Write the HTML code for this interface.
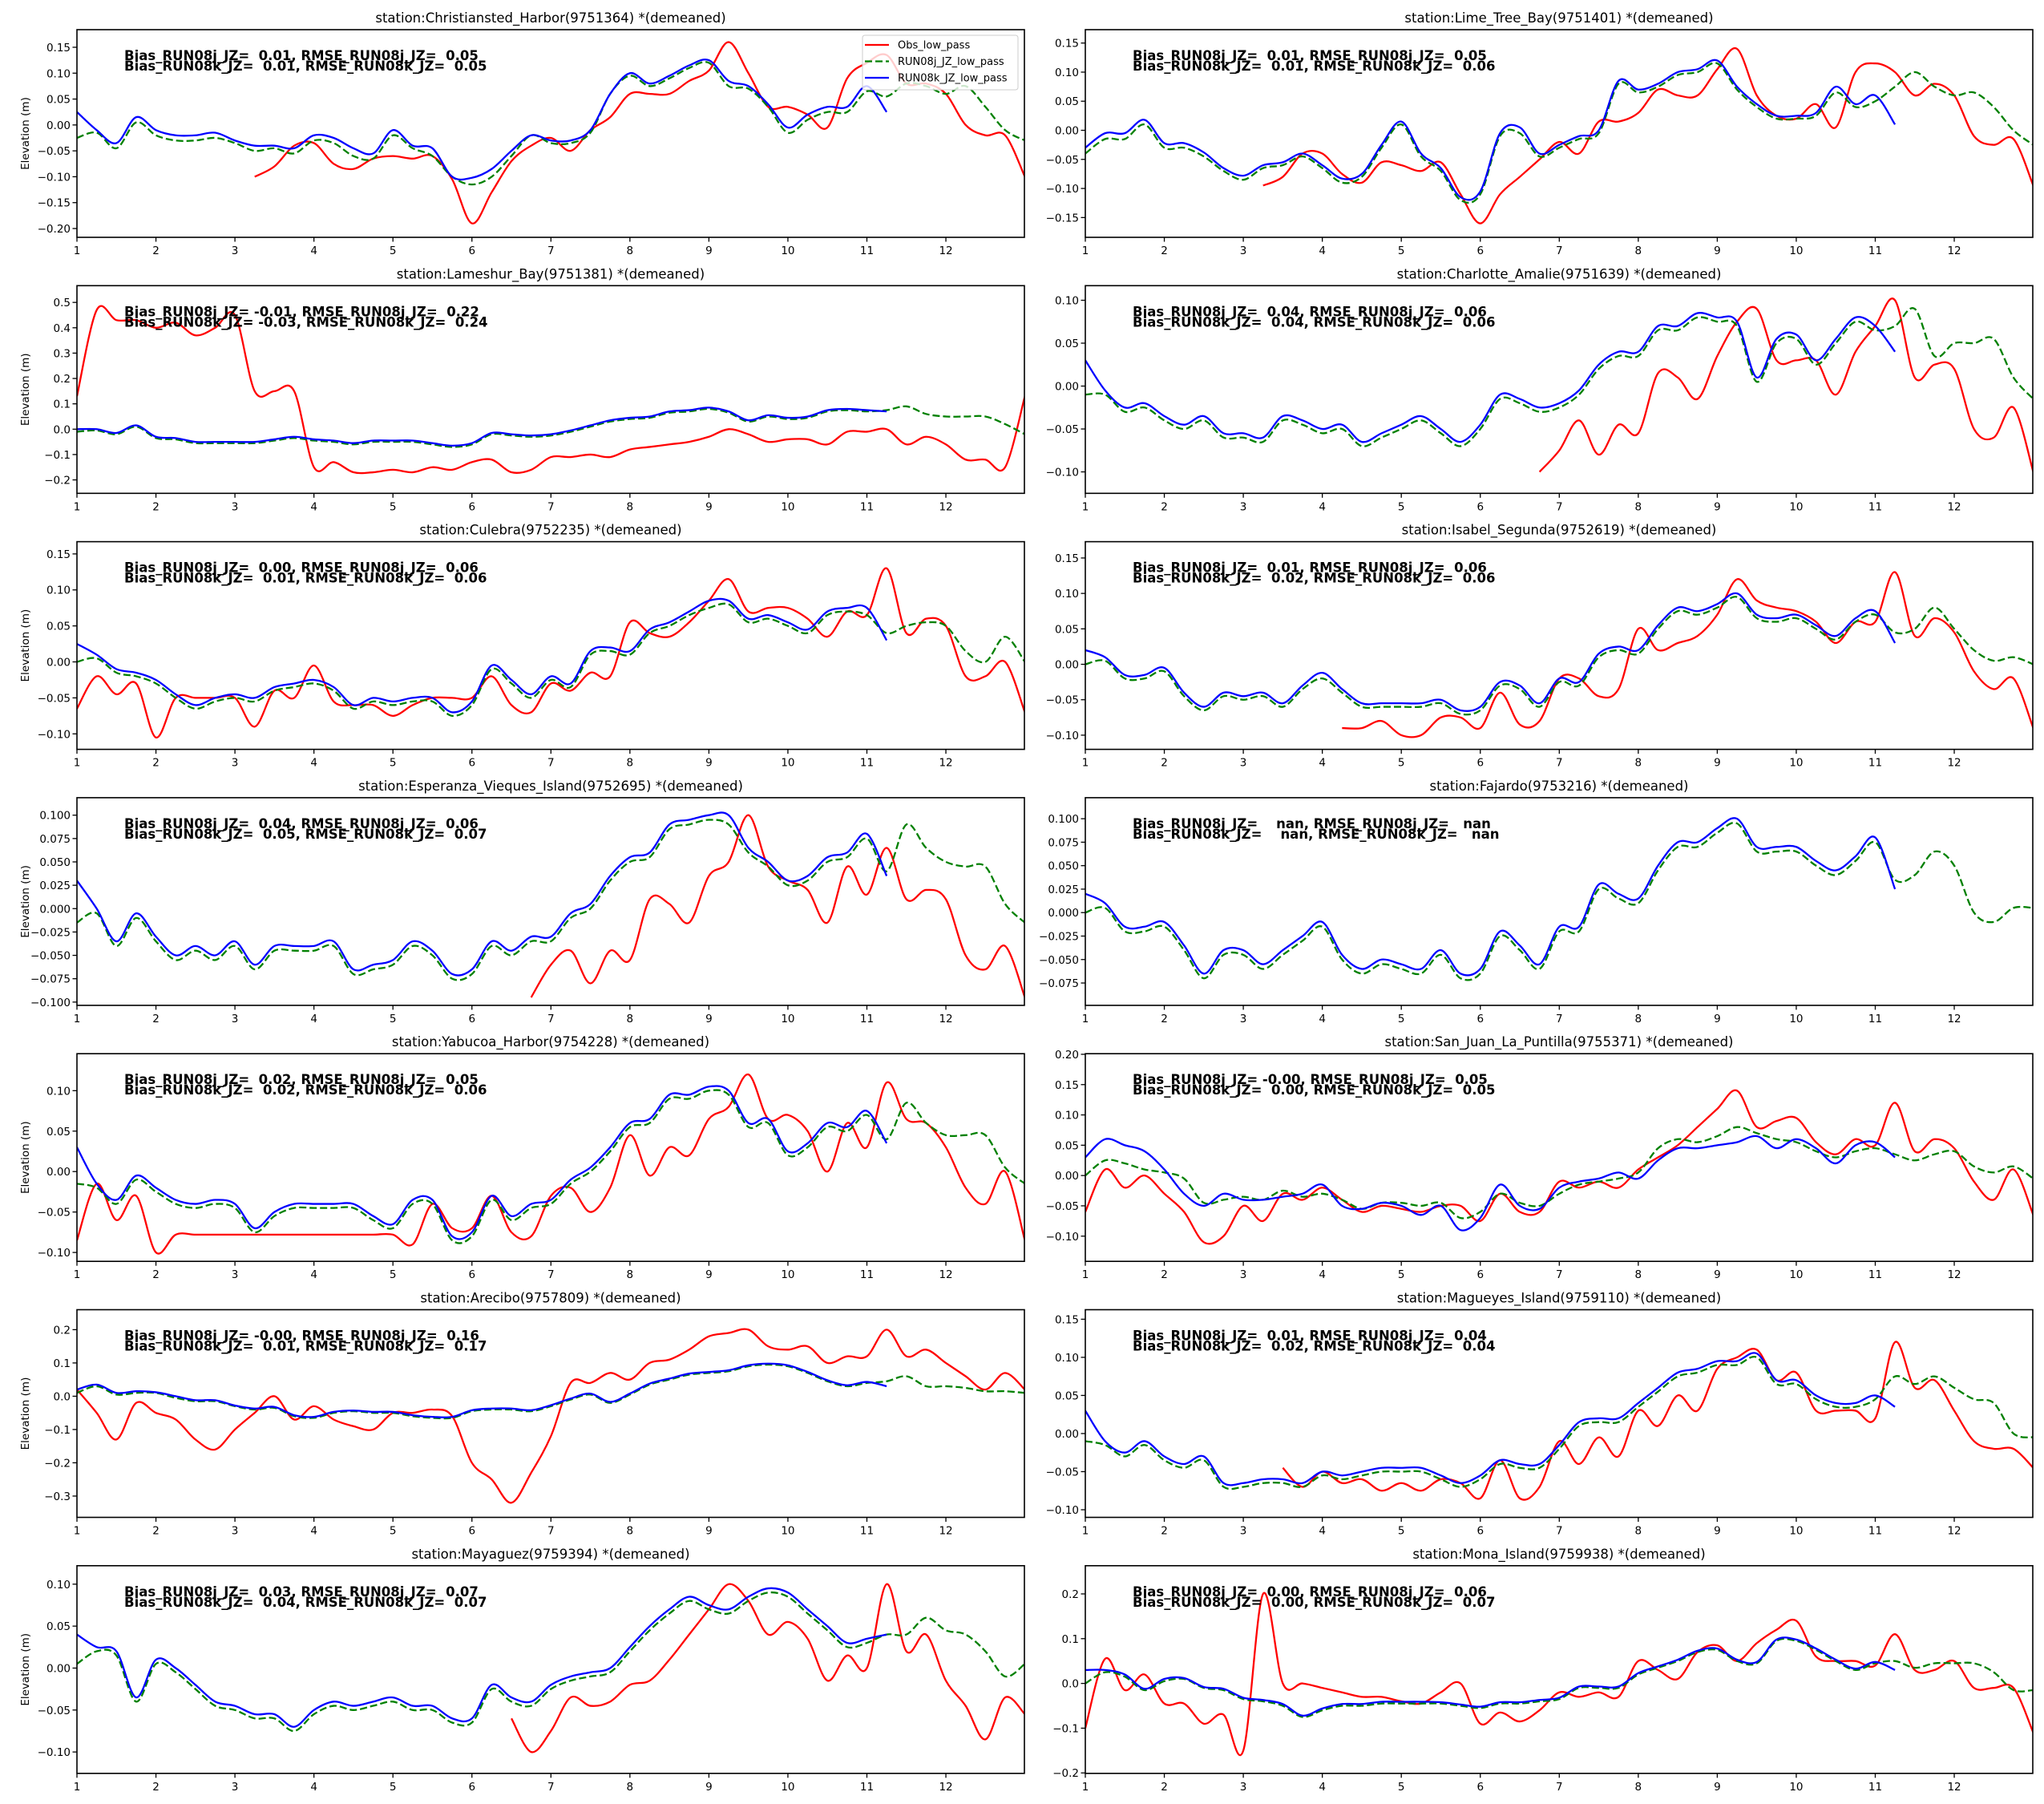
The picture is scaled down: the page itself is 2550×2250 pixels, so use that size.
<!DOCTYPE html>
<html><head><meta charset="utf-8"><title>Station elevation comparison</title>
<style>
html,body{margin:0;padding:0;background:#fff;}
svg{display:block;font-family:"DejaVu Sans","Liberation Sans",sans-serif;}
</style></head>
<body>
<svg id="fig" width="2550" height="2250" viewBox="0 0 2550 2250" xmlns="http://www.w3.org/2000/svg"></svg>
<script>
// ---- data (t = 1 + i*0.25 days) ----
const stationNames = ["Christiansted_Harbor(9751364)","Lime_Tree_Bay(9751401)","Lameshur_Bay(9751381)","Charlotte_Amalie(9751639)","Culebra(9752235)","Isabel_Segunda(9752619)","Esperanza_Vieques_Island(9752695)","Fajardo(9753216)","Yabucoa_Harbor(9754228)","San_Juan_La_Puntilla(9755371)","Arecibo(9757809)","Magueyes_Island(9759110)","Mayaguez(9759394)","Mona_Island(9759938)"];
const statsJ = [["0.01","0.05"],["0.01","0.05"],["-0.01","0.22"],["0.04","0.06"],["0.00","0.06"],["0.01","0.06"],["0.04","0.06"],["nan","nan"],["0.02","0.05"],["-0.00","0.05"],["-0.00","0.16"],["0.01","0.04"],["0.03","0.07"],["0.00","0.06"]];
const statsK = [["0.01","0.05"],["0.01","0.06"],["-0.03","0.24"],["0.04","0.06"],["0.01","0.06"],["0.02","0.06"],["0.05","0.07"],["nan","nan"],["0.02","0.06"],["0.00","0.05"],["0.01","0.17"],["0.02","0.04"],["0.04","0.07"],["0.00","0.07"]];
const yLims = [[-0.217,0.184],[-0.184,0.173],[-0.253,0.566],[-0.125,0.117],[-0.1215,0.167],[-0.120,0.173],[-0.1035,0.1187],[-0.0988,0.1224],[-0.111,0.1457],[-0.1416,0.201],[-0.364,0.260],[-0.110,0.1625],[-0.1255,0.122],[-0.201,0.263]];
const yTicks = [[-0.2,-0.15,-0.1,-0.05,0,0.05,0.1,0.15],[-0.15,-0.1,-0.05,0,0.05,0.1,0.15],[-0.2,-0.1,0,0.1,0.2,0.3,0.4,0.5],[-0.1,-0.05,0,0.05,0.1],[-0.1,-0.05,0,0.05,0.1,0.15],[-0.1,-0.05,0,0.05,0.1,0.15],[-0.1,-0.075,-0.05,-0.025,0,0.025,0.05,0.075,0.1],[-0.075,-0.05,-0.025,0,0.025,0.05,0.075,0.1],[-0.1,-0.05,0,0.05,0.1],[-0.1,-0.05,0,0.05,0.1,0.15,0.2],[-0.3,-0.2,-0.1,0,0.1,0.2],[-0.1,-0.05,0,0.05,0.1,0.15],[-0.1,-0.05,0,0.05,0.1],[-0.2,-0.1,0,0.1,0.2]];
const yDecimals = [2,2,1,2,2,2,3,3,2,2,1,2,2,1];
const xTicks = [1,2,3,4,5,6,7,8,9,10,11,12];
const N = null;
const obsSeries = [
[N,N,N,N,N,N,N,N,N,-0.1,-0.08,-0.04,-0.035,-0.075,-0.085,-0.065,-0.06,-0.065,-0.06,-0.105,-0.19,-0.13,-0.07,-0.04,-0.025,-0.05,-0.01,0.015,0.06,0.06,0.06,0.085,0.105,0.16,0.1,0.035,0.035,0.02,-0.005,0.09,0.12,0.135,0.08,0.08,0.06,0.0,-0.02,-0.02,-0.1],
[N,N,N,N,N,N,N,N,N,-0.095,-0.08,-0.04,-0.04,-0.075,-0.09,-0.055,-0.06,-0.07,-0.055,-0.11,-0.16,-0.11,-0.08,-0.05,-0.02,-0.04,0.015,0.015,0.03,0.07,0.06,0.06,0.105,0.14,0.06,0.025,0.02,0.045,0.005,0.1,0.115,0.1,0.06,0.08,0.06,-0.01,-0.025,-0.015,-0.095],
[0.13,0.47,0.43,0.43,0.4,0.42,0.37,0.4,0.45,0.15,0.15,0.15,-0.15,-0.13,-0.17,-0.17,-0.16,-0.17,-0.15,-0.16,-0.13,-0.12,-0.17,-0.16,-0.11,-0.11,-0.1,-0.11,-0.08,-0.07,-0.06,-0.05,-0.03,0.0,-0.02,-0.05,-0.04,-0.04,-0.06,-0.01,-0.01,0.0,-0.06,-0.03,-0.06,-0.12,-0.12,-0.15,0.13],
[N,N,N,N,N,N,N,N,N,N,N,N,N,N,N,N,N,N,N,N,N,N,N,-0.1,-0.075,-0.04,-0.08,-0.045,-0.055,0.015,0.01,-0.015,0.035,0.075,0.09,0.03,0.03,0.03,-0.01,0.04,0.07,0.1,0.01,0.025,0.02,-0.05,-0.06,-0.025,-0.1],
[-0.065,-0.02,-0.045,-0.03,-0.105,-0.05,-0.05,-0.05,-0.05,-0.09,-0.04,-0.05,-0.005,-0.055,-0.06,-0.06,-0.075,-0.06,-0.05,-0.05,-0.05,-0.02,-0.06,-0.07,-0.03,-0.04,-0.015,-0.02,0.055,0.04,0.035,0.055,0.085,0.115,0.07,0.075,0.075,0.06,0.035,0.07,0.065,0.13,0.04,0.06,0.05,-0.02,-0.02,0.0,-0.07],
[N,N,N,N,N,N,N,N,N,N,N,N,N,-0.09,-0.09,-0.08,-0.1,-0.1,-0.075,-0.075,-0.09,-0.04,-0.085,-0.08,-0.02,-0.02,-0.045,-0.035,0.05,0.02,0.03,0.04,0.07,0.12,0.09,0.08,0.075,0.06,0.03,0.06,0.06,0.13,0.04,0.065,0.045,-0.01,-0.035,-0.02,-0.09],
[N,N,N,N,N,N,N,N,N,N,N,N,N,N,N,N,N,N,N,N,N,N,N,-0.095,-0.06,-0.045,-0.08,-0.045,-0.055,0.01,0.005,-0.015,0.035,0.05,0.1,0.045,0.03,0.02,-0.015,0.045,0.015,0.065,0.01,0.02,0.01,-0.05,-0.065,-0.04,-0.095],
[],
[-0.085,-0.015,-0.06,-0.03,-0.1,-0.078,-0.078,-0.078,-0.078,-0.078,-0.078,-0.078,-0.078,-0.078,-0.078,-0.078,-0.078,-0.09,-0.04,-0.07,-0.07,-0.03,-0.075,-0.08,-0.03,-0.02,-0.05,-0.02,0.045,-0.005,0.03,0.02,0.065,0.08,0.12,0.065,0.07,0.05,0.0,0.06,0.03,0.11,0.065,0.06,0.03,-0.02,-0.04,0.0,-0.085],
[-0.06,0.01,-0.02,0.0,-0.03,-0.06,-0.11,-0.1,-0.05,-0.075,-0.03,-0.04,-0.02,-0.04,-0.06,-0.05,-0.055,-0.06,-0.05,-0.05,-0.075,-0.03,-0.06,-0.06,-0.01,-0.02,-0.01,-0.02,0.01,0.03,0.05,0.08,0.11,0.14,0.08,0.09,0.095,0.055,0.035,0.06,0.05,0.12,0.04,0.06,0.045,-0.01,-0.04,0.01,-0.065],
[0.02,-0.05,-0.13,-0.02,-0.05,-0.07,-0.13,-0.16,-0.1,-0.05,0.0,-0.07,-0.03,-0.07,-0.09,-0.1,-0.05,-0.05,-0.04,-0.06,-0.2,-0.25,-0.32,-0.23,-0.12,0.04,0.04,0.07,0.05,0.1,0.11,0.14,0.18,0.19,0.2,0.15,0.14,0.15,0.1,0.12,0.12,0.2,0.12,0.14,0.1,0.06,0.02,0.07,0.02],
[N,N,N,N,N,N,N,N,N,N,-0.045,-0.07,-0.05,-0.065,-0.06,-0.075,-0.065,-0.075,-0.06,-0.065,-0.085,-0.035,-0.085,-0.07,-0.01,-0.04,-0.005,-0.03,0.03,0.01,0.05,0.03,0.085,0.1,0.11,0.07,0.08,0.03,0.03,0.03,0.02,0.12,0.06,0.07,0.03,-0.01,-0.02,-0.02,-0.045],
[N,N,N,N,N,N,N,N,N,N,N,N,N,N,N,N,N,N,N,N,N,N,-0.06,-0.1,-0.075,-0.035,-0.045,-0.04,-0.02,-0.015,0.01,0.04,0.07,0.1,0.08,0.04,0.055,0.035,-0.015,0.015,0.0,0.1,0.02,0.04,-0.015,-0.045,-0.085,-0.035,-0.055],
[-0.1,0.055,-0.015,0.02,-0.045,-0.045,-0.09,-0.07,-0.15,0.2,0.0,0.0,-0.01,-0.02,-0.03,-0.03,-0.04,-0.045,-0.02,0.0,-0.09,-0.065,-0.085,-0.06,-0.02,-0.03,-0.02,-0.03,0.05,0.03,0.01,0.07,0.085,0.05,0.09,0.12,0.14,0.06,0.05,0.05,0.04,0.11,0.03,0.03,0.05,-0.01,-0.01,-0.01,-0.11]
];
const jSeries = [
[-0.025,-0.015,-0.045,0.005,-0.02,-0.03,-0.03,-0.025,-0.035,-0.05,-0.045,-0.055,-0.03,-0.035,-0.06,-0.065,-0.02,-0.045,-0.06,-0.1,-0.115,-0.1,-0.06,-0.02,-0.035,-0.035,-0.015,0.06,0.095,0.075,0.09,0.11,0.12,0.075,0.07,0.035,-0.015,0.01,0.025,0.025,0.065,0.055,0.08,0.075,0.06,0.075,0.035,-0.01,-0.03],
[-0.04,-0.015,-0.015,0.01,-0.03,-0.03,-0.045,-0.07,-0.085,-0.065,-0.06,-0.045,-0.065,-0.09,-0.08,-0.03,0.01,-0.045,-0.07,-0.12,-0.11,-0.01,-0.005,-0.045,-0.03,-0.015,-0.005,0.08,0.065,0.075,0.095,0.1,0.115,0.07,0.04,0.02,0.02,0.025,0.065,0.04,0.05,0.075,0.1,0.075,0.06,0.065,0.04,0.0,-0.025],
[-0.01,-0.005,-0.02,0.01,-0.035,-0.04,-0.055,-0.055,-0.055,-0.055,-0.045,-0.035,-0.045,-0.05,-0.06,-0.05,-0.05,-0.05,-0.06,-0.07,-0.06,-0.02,-0.025,-0.03,-0.025,-0.01,0.01,0.03,0.04,0.045,0.065,0.07,0.08,0.065,0.03,0.05,0.04,0.045,0.07,0.075,0.07,0.075,0.09,0.06,0.05,0.05,0.05,0.02,-0.02],
[-0.01,-0.01,-0.03,-0.025,-0.04,-0.05,-0.04,-0.06,-0.06,-0.065,-0.04,-0.045,-0.055,-0.05,-0.07,-0.06,-0.05,-0.04,-0.055,-0.07,-0.05,-0.015,-0.02,-0.03,-0.025,-0.01,0.02,0.035,0.035,0.065,0.065,0.08,0.075,0.07,0.005,0.05,0.055,0.025,0.05,0.075,0.065,0.07,0.09,0.035,0.05,0.05,0.055,0.01,-0.015],
[0.0,0.005,-0.015,-0.02,-0.03,-0.05,-0.065,-0.055,-0.05,-0.055,-0.04,-0.035,-0.03,-0.04,-0.065,-0.055,-0.06,-0.055,-0.055,-0.075,-0.06,-0.01,-0.03,-0.05,-0.025,-0.035,0.01,0.015,0.01,0.04,0.05,0.065,0.075,0.08,0.055,0.06,0.05,0.04,0.065,0.07,0.065,0.04,0.05,0.055,0.05,0.015,0.0,0.035,0.0],
[0.0,0.005,-0.02,-0.02,-0.01,-0.045,-0.065,-0.045,-0.05,-0.045,-0.06,-0.035,-0.02,-0.04,-0.06,-0.06,-0.06,-0.06,-0.055,-0.07,-0.065,-0.03,-0.035,-0.06,-0.025,-0.03,0.01,0.02,0.015,0.05,0.075,0.07,0.08,0.095,0.065,0.06,0.065,0.05,0.035,0.06,0.07,0.045,0.05,0.08,0.05,0.02,0.005,0.01,0.0],
[-0.015,-0.005,-0.04,-0.01,-0.035,-0.055,-0.045,-0.055,-0.04,-0.065,-0.045,-0.045,-0.045,-0.04,-0.07,-0.065,-0.06,-0.04,-0.05,-0.075,-0.07,-0.04,-0.05,-0.035,-0.035,-0.01,0.0,0.03,0.05,0.055,0.085,0.09,0.095,0.09,0.06,0.045,0.025,0.03,0.05,0.055,0.075,0.04,0.09,0.065,0.05,0.045,0.045,0.005,-0.015],
[0.0,0.005,-0.02,-0.02,-0.015,-0.04,-0.07,-0.045,-0.045,-0.06,-0.045,-0.03,-0.015,-0.05,-0.065,-0.055,-0.06,-0.065,-0.045,-0.07,-0.065,-0.025,-0.04,-0.06,-0.02,-0.02,0.025,0.015,0.01,0.045,0.07,0.07,0.085,0.095,0.065,0.065,0.065,0.05,0.04,0.055,0.075,0.035,0.04,0.065,0.05,0.0,-0.01,0.005,0.005],
[-0.015,-0.02,-0.04,-0.01,-0.025,-0.04,-0.045,-0.04,-0.045,-0.075,-0.055,-0.045,-0.045,-0.045,-0.045,-0.06,-0.07,-0.04,-0.04,-0.085,-0.08,-0.035,-0.06,-0.045,-0.04,-0.015,0.0,0.025,0.055,0.06,0.09,0.09,0.1,0.095,0.055,0.06,0.02,0.03,0.055,0.05,0.07,0.04,0.085,0.06,0.045,0.045,0.045,0.005,-0.015],
[0.0,0.025,0.02,0.01,0.005,-0.005,-0.045,-0.04,-0.035,-0.04,-0.025,-0.035,-0.03,-0.04,-0.055,-0.045,-0.045,-0.05,-0.045,-0.07,-0.06,-0.03,-0.045,-0.05,-0.03,-0.015,-0.01,-0.005,0.005,0.045,0.06,0.055,0.065,0.08,0.07,0.06,0.055,0.04,0.03,0.04,0.045,0.035,0.025,0.035,0.04,0.015,0.005,0.015,-0.005],
[0.01,0.03,0.005,0.01,0.01,-0.005,-0.015,-0.015,-0.03,-0.04,-0.035,-0.06,-0.065,-0.05,-0.045,-0.05,-0.05,-0.06,-0.065,-0.065,-0.045,-0.04,-0.04,-0.045,-0.03,-0.01,0.005,-0.02,0.005,0.035,0.05,0.065,0.07,0.075,0.09,0.095,0.09,0.07,0.045,0.03,0.04,0.045,0.06,0.03,0.03,0.025,0.015,0.015,0.01],
[-0.01,-0.015,-0.03,-0.015,-0.035,-0.045,-0.035,-0.07,-0.07,-0.065,-0.065,-0.07,-0.055,-0.06,-0.055,-0.05,-0.05,-0.05,-0.06,-0.07,-0.06,-0.04,-0.045,-0.045,-0.02,0.01,0.015,0.015,0.035,0.055,0.075,0.08,0.09,0.09,0.1,0.065,0.065,0.045,0.035,0.035,0.045,0.075,0.065,0.075,0.06,0.045,0.04,0.0,-0.005],
[0.005,0.02,0.015,-0.04,0.005,-0.005,-0.025,-0.045,-0.05,-0.06,-0.06,-0.075,-0.055,-0.045,-0.05,-0.045,-0.04,-0.05,-0.05,-0.065,-0.065,-0.025,-0.04,-0.045,-0.025,-0.015,-0.01,-0.005,0.02,0.045,0.065,0.08,0.07,0.065,0.08,0.09,0.085,0.065,0.045,0.025,0.03,0.04,0.04,0.06,0.045,0.04,0.02,-0.01,0.005],
[0.0,0.025,0.015,-0.015,0.005,0.01,-0.01,-0.015,-0.035,-0.04,-0.05,-0.075,-0.06,-0.05,-0.05,-0.045,-0.045,-0.045,-0.045,-0.05,-0.055,-0.045,-0.045,-0.04,-0.035,-0.01,-0.01,-0.01,0.02,0.035,0.05,0.07,0.075,0.05,0.045,0.095,0.095,0.075,0.05,0.03,0.045,0.05,0.035,0.045,0.045,0.045,0.025,-0.015,-0.015]
];
const kSeries = [
[0.025,-0.01,-0.035,0.015,-0.01,-0.02,-0.02,-0.015,-0.03,-0.04,-0.04,-0.045,-0.02,-0.025,-0.045,-0.055,-0.01,-0.04,-0.045,-0.1,-0.102,-0.085,-0.05,-0.02,-0.03,-0.03,-0.01,0.06,0.1,0.08,0.095,0.115,0.125,0.085,0.075,0.04,-0.005,0.02,0.035,0.035,0.075,0.025],
[-0.03,-0.005,-0.005,0.018,-0.022,-0.022,-0.038,-0.065,-0.078,-0.06,-0.055,-0.04,-0.06,-0.083,-0.075,-0.025,0.015,-0.04,-0.065,-0.115,-0.105,-0.005,0.005,-0.04,-0.025,-0.01,0.0,0.085,0.07,0.08,0.1,0.105,0.12,0.075,0.045,0.025,0.025,0.03,0.075,0.045,0.06,0.01],
[0.0,0.0,-0.015,0.015,-0.03,-0.035,-0.05,-0.05,-0.05,-0.05,-0.04,-0.03,-0.04,-0.045,-0.055,-0.045,-0.045,-0.045,-0.055,-0.065,-0.055,-0.015,-0.02,-0.025,-0.02,-0.005,0.015,0.035,0.045,0.05,0.07,0.075,0.085,0.07,0.035,0.055,0.045,0.05,0.075,0.08,0.075,0.07],
[0.03,-0.005,-0.025,-0.02,-0.035,-0.045,-0.035,-0.055,-0.055,-0.06,-0.035,-0.04,-0.05,-0.045,-0.065,-0.055,-0.045,-0.035,-0.05,-0.065,-0.045,-0.01,-0.015,-0.025,-0.02,-0.005,0.025,0.04,0.04,0.07,0.07,0.085,0.08,0.075,0.01,0.055,0.06,0.03,0.055,0.08,0.07,0.04],
[0.025,0.01,-0.01,-0.015,-0.025,-0.045,-0.06,-0.05,-0.045,-0.05,-0.035,-0.03,-0.025,-0.035,-0.06,-0.05,-0.055,-0.05,-0.05,-0.07,-0.055,-0.005,-0.025,-0.045,-0.02,-0.03,0.015,0.02,0.015,0.045,0.055,0.07,0.085,0.085,0.06,0.065,0.055,0.045,0.07,0.075,0.075,0.03],
[0.02,0.01,-0.015,-0.015,-0.005,-0.04,-0.06,-0.04,-0.045,-0.04,-0.055,-0.03,-0.012,-0.035,-0.055,-0.055,-0.055,-0.055,-0.05,-0.065,-0.06,-0.025,-0.03,-0.055,-0.02,-0.025,0.015,0.025,0.02,0.055,0.08,0.075,0.085,0.1,0.07,0.065,0.07,0.055,0.04,0.065,0.075,0.03],
[0.03,0.0,-0.035,-0.005,-0.03,-0.05,-0.04,-0.05,-0.035,-0.06,-0.04,-0.04,-0.04,-0.035,-0.065,-0.06,-0.055,-0.035,-0.045,-0.07,-0.065,-0.035,-0.045,-0.03,-0.03,-0.005,0.005,0.035,0.055,0.06,0.09,0.095,0.1,0.1,0.065,0.05,0.03,0.035,0.055,0.06,0.08,0.035],
[0.02,0.01,-0.015,-0.015,-0.01,-0.035,-0.065,-0.04,-0.04,-0.055,-0.04,-0.025,-0.01,-0.045,-0.06,-0.05,-0.055,-0.06,-0.04,-0.065,-0.06,-0.02,-0.035,-0.055,-0.015,-0.015,0.03,0.02,0.015,0.05,0.075,0.075,0.09,0.1,0.07,0.07,0.07,0.055,0.045,0.06,0.08,0.025],
[0.03,-0.015,-0.035,-0.005,-0.02,-0.035,-0.04,-0.035,-0.04,-0.07,-0.05,-0.04,-0.04,-0.04,-0.04,-0.055,-0.065,-0.035,-0.035,-0.08,-0.075,-0.03,-0.055,-0.04,-0.035,-0.01,0.005,0.03,0.06,0.065,0.095,0.095,0.105,0.1,0.06,0.065,0.025,0.035,0.06,0.055,0.075,0.035],
[0.03,0.06,0.05,0.04,0.01,-0.03,-0.05,-0.03,-0.04,-0.04,-0.035,-0.03,-0.015,-0.05,-0.055,-0.045,-0.05,-0.065,-0.05,-0.09,-0.07,-0.015,-0.05,-0.055,-0.02,-0.01,-0.005,0.005,-0.005,0.025,0.045,0.045,0.05,0.055,0.065,0.045,0.06,0.045,0.02,0.05,0.055,0.03],
[0.02,0.035,0.01,0.015,0.012,0.0,-0.012,-0.012,-0.028,-0.037,-0.032,-0.057,-0.062,-0.047,-0.043,-0.047,-0.047,-0.057,-0.062,-0.062,-0.042,-0.037,-0.037,-0.042,-0.027,-0.007,0.008,-0.017,0.008,0.038,0.053,0.068,0.073,0.078,0.093,0.098,0.093,0.073,0.048,0.033,0.043,0.03],
[0.03,-0.01,-0.025,-0.01,-0.03,-0.04,-0.03,-0.065,-0.065,-0.06,-0.06,-0.065,-0.05,-0.055,-0.05,-0.045,-0.045,-0.045,-0.055,-0.065,-0.055,-0.035,-0.04,-0.04,-0.015,0.015,0.02,0.02,0.04,0.06,0.08,0.085,0.095,0.095,0.105,0.07,0.07,0.05,0.04,0.04,0.05,0.035],
[0.04,0.025,0.02,-0.035,0.01,0.0,-0.02,-0.04,-0.045,-0.055,-0.055,-0.07,-0.05,-0.04,-0.045,-0.04,-0.035,-0.045,-0.045,-0.06,-0.06,-0.02,-0.035,-0.04,-0.02,-0.01,-0.005,0.0,0.025,0.05,0.07,0.085,0.075,0.07,0.085,0.095,0.09,0.07,0.05,0.03,0.035,0.04],
[0.03,0.03,0.02,-0.012,0.01,0.012,-0.008,-0.012,-0.032,-0.037,-0.046,-0.072,-0.056,-0.046,-0.046,-0.041,-0.041,-0.041,-0.042,-0.047,-0.052,-0.042,-0.042,-0.037,-0.032,-0.007,-0.007,-0.007,0.023,0.038,0.053,0.073,0.078,0.053,0.048,0.098,0.098,0.078,0.053,0.033,0.048,0.03]
];
const tStart = 1, tStep = 0.25;
const xMin = 1, xMax = 12.994;

// ---- layout ----
const NS = "http://www.w3.org/2000/svg";
const svg = document.getElementById("fig");
const colX = [96, 1354], axW = 1182, axH = 259, rowTop0 = 37, rowPitch = 319.3;
function el(tag, attrs, parent){const e=document.createElementNS(NS,tag);for(const k in attrs)e.setAttribute(k,attrs[k]);(parent||svg).appendChild(e);return e;}
function fmt(v,d){let s=Math.abs(v).toFixed(d);return (v<0?"\u2212":"")+s;}
function pathFrom(pts){
  if(pts.length<2) return "";
  let d="M"+pts[0][0].toFixed(2)+","+pts[0][1].toFixed(2);
  for(let i=0;i<pts.length-1;i++){
    const p0=pts[i-1]||pts[i],p1=pts[i],p2=pts[i+1],p3=pts[i+2]||p2;
    const c1x=p1[0]+(p2[0]-p0[0])/6,c1y=p1[1]+(p2[1]-p0[1])/6;
    const c2x=p2[0]-(p3[0]-p1[0])/6,c2y=p2[1]-(p3[1]-p1[1])/6;
    d+="C"+c1x.toFixed(2)+","+c1y.toFixed(2)+" "+c2x.toFixed(2)+","+c2y.toFixed(2)+" "+p2[0].toFixed(2)+","+p2[1].toFixed(2);
  }
  return d;
}
function seriesPath(vals,xs,ys){
  let d="",seg=[];
  vals.forEach((v,i)=>{
    if(v===null||v===undefined){d+=pathFrom(seg);seg=[];return;}
    seg.push([xs(tStart+i*tStep),ys(v)]);
  });
  d+=pathFrom(seg);return d;
}

stationNames.forEach((name,p)=>{
  const col=p%2,row=Math.floor(p/2);
  const L=colX[col],T=rowTop0+row*rowPitch;
  const [y0,y1]=yLims[p];
  const xs=t=>L+(t-xMin)/(xMax-xMin)*axW;
  const ys=v=>T+axH-(v-y0)/(y1-y0)*axH;
  const g=el("g",{});
  
  
  const clip=el("clipPath",{id:"clip"+p},g);
  el("rect",{x:L,y:T,width:axW,height:axH},clip);

  const title=el("text",{x:L+axW/2,y:T-9,"text-anchor":"middle","font-size":"16.5"},g);
  title.textContent="station:"+name+" *(demeaned)";
  
  

  xTicks.forEach(t=>{
    const x=xs(t);
    el("line",{x1:x,x2:x,y1:T+axH,y2:T+axH+5.5,stroke:"#000","stroke-width":1.3},g);
    const tx=el("text",{x:x,y:T+axH+21,"text-anchor":"middle","font-size":"13.5"},g);
    tx.textContent=String(t);
    
    
  });
  yTicks[p].forEach(v=>{
    const y=ys(v);
    el("line",{x1:L-5.5,x2:L,y1:y,y2:y,stroke:"#000","stroke-width":1.3},g);
    const ty=el("text",{x:L-8,y:y+5,"text-anchor":"end","font-size":"13.5"},g);
    ty.textContent=fmt(v,yDecimals[p]);
    
    
  });
  if(col===0){
    const yl=el("text",{x:0,y:0,"text-anchor":"middle","font-size":"13.5",transform:"translate("+(L-60)+","+(T+axH/2)+") rotate(-90)"},g);
    yl.textContent="Elevation (m)";
    
    
  }

  const cg=el("g",{"clip-path":"url(#clip"+p+")"},g);
  if(obsSeries[p].length){
    const o=el("path",{d:seriesPath(obsSeries[p],xs,ys),fill:"none",stroke:"#ff0000","stroke-width":2.3,"stroke-linejoin":"round"},cg);
    
    
  }
  const j=el("path",{d:seriesPath(jSeries[p],xs,ys),fill:"none",stroke:"#008000","stroke-width":2.3,"stroke-dasharray":"9,4"},cg);
  
  
  const k=el("path",{d:seriesPath(kSeries[p],xs,ys),fill:"none",stroke:"#0000ff","stroke-width":2.3,"stroke-linejoin":"round"},cg);
  
  

  const s1=el("text",{x:L+59,y:T+38,"font-size":"16.5","font-weight":"bold"},g);
  s1.textContent="Bias_RUN08j_JZ= "+(statsJ[p][0].startsWith("-")?"":" ")+(statsJ[p][0]==="nan"?"  nan":statsJ[p][0])+", RMSE_RUN08j_JZ=  "+(statsJ[p][1]==="nan"?" nan":statsJ[p][1]);
  s1.style.whiteSpace="pre";
  
  
  const s2=el("text",{x:L+59,y:T+51,"font-size":"16.5","font-weight":"bold"},g);
  s2.textContent="Bias_RUN08k_JZ= "+(statsK[p][0].startsWith("-")?"":" ")+(statsK[p][0]==="nan"?"  nan":statsK[p][0])+", RMSE_RUN08k_JZ=  "+(statsK[p][1]==="nan"?" nan":statsK[p][1]);
  s2.style.whiteSpace="pre";
  
  

  const fr=el("rect",{x:L,y:T,width:axW,height:axH,fill:"none",stroke:"#000","stroke-width":1.6},g);
  
  

  if(p===0){
    const lg=el("g",{},g);
    
    
    el("rect",{x:1076,y:44,width:194,height:68,fill:"#fff","fill-opacity":0.8,stroke:"#ccc","stroke-width":1,rx:3},lg);
    const items=[["Obs_low_pass","#ff0000",""],["RUN08j_JZ_low_pass","#008000","9,4"],["RUN08k_JZ_low_pass","#0000ff",""]];
    items.forEach((it,i)=>{
      const y=56+i*20.5;
      const ln=el("line",{x1:1079,x2:1109,y1:y,y2:y,stroke:it[1],"stroke-width":2.3},lg);
      if(it[2]) ln.setAttribute("stroke-dasharray",it[2]);
      const lt=el("text",{x:1120,y:y+4.5,"font-size":"13"},lg);
      lt.textContent=it[0];
      
      
    });
  }
});
</script>
</body></html>
